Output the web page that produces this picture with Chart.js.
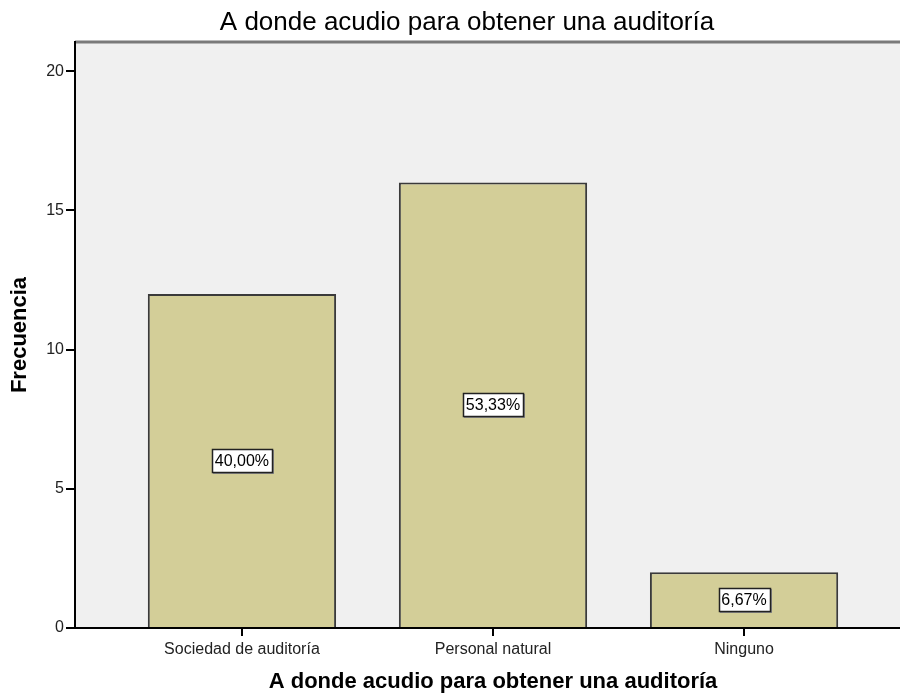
<!DOCTYPE html>
<html>
<head>
<meta charset="utf-8">
<script src="https://cdn.jsdelivr.net/npm/chart.js@4/dist/chart.umd.min.js"></script>
<style>
  html, body { margin: 0; padding: 0; background: #fff; overflow: hidden; }
  #wrap { width: 900px; height: 695px; overflow: hidden; position: relative; }
  #holder { width: 934px; height: 695px; }
</style>
</head>
<body>
<div id="wrap"><div id="holder"><canvas id="chart"></canvas></div></div>
<script>
// Chart data
const categories = ['Sociedad de auditoría', 'Personal natural', 'Ninguno'];
const frequencies = [12, 16, 2];
const percentLabels = ['40,00%', '53,33%', '6,67%'];
const yTicks = [0, 5, 10, 15, 20];

const chartTitle = 'A donde acudio para obtener una auditoría';
const xTitle = 'A donde acudio para obtener una auditoría';
const yTitle = 'Frecuencia';

const FONT = '"Liberation Sans", Arial, sans-serif';

// Background of the plot area + grey top border + main title
const plotBackground = {
  id: 'plotBackground',
  beforeDraw(chart) {
    const { ctx, chartArea: a } = chart;
    ctx.save();
    ctx.fillStyle = '#f0f0f0';
    ctx.fillRect(a.left, a.top, a.right - a.left, a.bottom - a.top);
    ctx.strokeStyle = '#7a7a7a';
    ctx.lineWidth = 3;
    ctx.beginPath();
    ctx.moveTo(a.left, a.top);
    ctx.lineTo(a.right, a.top);
    ctx.stroke();
    // title is centred on the full (uncropped) picture width
    ctx.fillStyle = '#000';
    ctx.font = '26px ' + FONT;
    ctx.textAlign = 'center';
    ctx.textBaseline = 'middle';
    ctx.fillText(chartTitle, chart.width / 2, 23);
    ctx.restore();
  }
};

// Percentage boxes in the middle of each bar
const percentBoxes = {
  id: 'percentBoxes',
  afterDatasetsDraw(chart) {
    const { ctx } = chart;
    const meta = chart.getDatasetMeta(0);
    ctx.save();
    ctx.font = '16px ' + FONT;
    ctx.textAlign = 'center';
    ctx.textBaseline = 'middle';
    meta.data.forEach((bar, i) => {
      const text = percentLabels[i];
      const cx = bar.x;
      const cy = (bar.y + bar.base) / 2;
      const w = Math.round(ctx.measureText(text).width + 6);
      const h = 23;
      const x0 = Math.round(cx - w / 2), y0 = Math.round(cy - h / 2);
      ctx.fillStyle = '#8a8a8a';
      ctx.fillRect(x0 + 1, y0 + 1, w + 1, h + 1);
      ctx.fillStyle = '#fff';
      ctx.fillRect(x0, y0, w, h);
      ctx.strokeStyle = '#222';
      ctx.lineWidth = 1.5;
      ctx.strokeRect(x0 + 0.5, y0 + 0.5, w, h);
      ctx.fillStyle = '#000';
      ctx.fillText(text, cx, cy + 1);
    });
    ctx.restore();
  }
};

new Chart(document.getElementById('chart'), {
  type: 'bar',
  data: {
    datasets: [{
      data: frequencies.map((v, i) => ({ x: i, y: v })),
      backgroundColor: '#d3ce98',
      borderColor: '#3a3a3a',
      borderWidth: 2,
      categoryPercentage: 1,
      barPercentage: 0.75
    }]
  },
  options: {
    responsive: true,
    maintainAspectRatio: false,
    animation: false,
    layout: { padding: { top: 42, right: 23, left: 0, bottom: 0 } },
    plugins: {
      legend: { display: false },
      tooltip: { enabled: false },
      title: { display: false }
    },
    scales: {
      x: {
        type: 'linear',
        offset: false,
        min: -0.665,
        max: 2.665,
        afterBuildTicks: s => { s.ticks = categories.map((c, i) => ({ value: i })); },
        afterFit: s => { s.height = 67; },
        ticks: {
          color: '#222',
          padding: 4,
          maxRotation: 0,
          autoSkip: false,
          font: { family: FONT, size: 16 },
          callback: v => categories[v]
        },
        grid: { offset: false, drawOnChartArea: false, drawTicks: true, tickLength: 8, lineWidth: 2, color: '#000' },
        border: { display: true, color: '#000', width: 2 },
        title: {
          display: true,
          text: xTitle,
          color: '#000',
          font: { family: FONT, size: 22, weight: 'bold' },
          padding: { top: 0, bottom: 0 }
        }
      },
      y: {
        min: 0,
        max: 21.05,
        afterBuildTicks: s => { s.ticks = yTicks.map(v => ({ value: v })); },
        afterFit: s => { s.width = 75; },
        ticks: {
          color: '#222',
          padding: 2,
          font: { family: FONT, size: 16 }
        },
        grid: { drawOnChartArea: false, drawTicks: true, tickLength: 9, lineWidth: 2, color: '#000' },
        border: { display: true, color: '#000', width: 2 },
        title: {
          display: true,
          text: yTitle,
          color: '#000',
          font: { family: FONT, size: 22, weight: 'bold' },
          padding: { top: 7, bottom: 0 }
        }
      }
    }
  },
  plugins: [plotBackground, percentBoxes]
});
</script>
</body>
</html>
